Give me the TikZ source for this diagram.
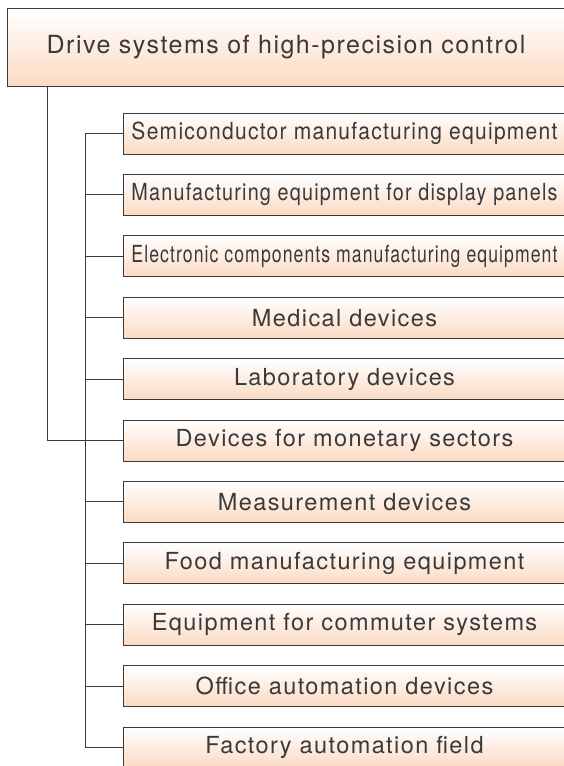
\documentclass[tikz,border=0pt]{standalone}
\usepackage{fontspec}
\setmainfont[LetterSpace=6.0]{TeX Gyre Heros}
\usepackage{graphicx}
\definecolor{peach}{HTML}{FBDAC3}
\definecolor{ink}{HTML}{3A3A3A}
\tikzstyle{link} = [draw=ink, line width=1pt]
\tikzstyle{box} = [draw=ink, line width=1pt, top color=white, bottom color=peach, text=ink, minimum width=443pt, minimum height=41pt, inner sep=0pt, font=\fontsize{23.5}{28}\selectfont]
\tikzstyle{head} = [box, minimum width=558pt, minimum height=78pt, font=\fontsize{25}{30}\selectfont]
\newcommand{\squeeze}[1]{\resizebox{426pt}{\height}{#1}}

\begin{document}
\begin{tikzpicture}[x=1pt,y=-1pt]
        \useasboundingbox (0,0) rectangle (564,766);
        \clip (0,0) rectangle (564,766);
        \node[head] at (286,47) (top) {Drive systems of high-precision control};

        \node[box] at (344.5,133.5) (semi) {\squeeze{Semiconductor manufacturing equipment}};
        \node[box] at (344.5,194.9) (disp) {\squeeze{Manufacturing equipment for display panels}};
        \node[box] at (344.5,256.3) (elec) {\squeeze{Electronic components manufacturing equipment}};
        \node[box] at (344.5,317.7) (med) {Medical devices};
        \node[box] at (344.5,379.1) (lab) {Laboratory devices};
        \node[box] at (344.5,440.5) (mon) {Devices for monetary sectors};
        \node[box] at (344.5,501.9) (meas) {Measurement devices};
        \node[box] at (344.5,563.3) (food) {Food manufacturing equipment};
        \node[box] at (344.5,624.7) (comm) {Equipment for commuter systems};
        \node[box] at (344.5,686.1) (office) {Office automation devices};
        \node[box] at (344.5,747.5) (fa) {Factory automation field};

        \coordinate (trunk) at (47,86);
        \coordinate (bus) at (85,133.5);

        \draw[link] (top.south -| trunk) |- (mon.west);
        \draw[link] (semi.west) -- (bus) |- (fa.west);
        \draw[link] (disp.west) -- (disp.west -| bus);
        \draw[link] (elec.west) -- (elec.west -| bus);
        \draw[link] (med.west) -- (med.west -| bus);
        \draw[link] (lab.west) -- (lab.west -| bus);
        \draw[link] (meas.west) -- (meas.west -| bus);
        \draw[link] (food.west) -- (food.west -| bus);
        \draw[link] (comm.west) -- (comm.west -| bus);
        \draw[link] (office.west) -- (office.west -| bus);
\end{tikzpicture}
\end{document}
